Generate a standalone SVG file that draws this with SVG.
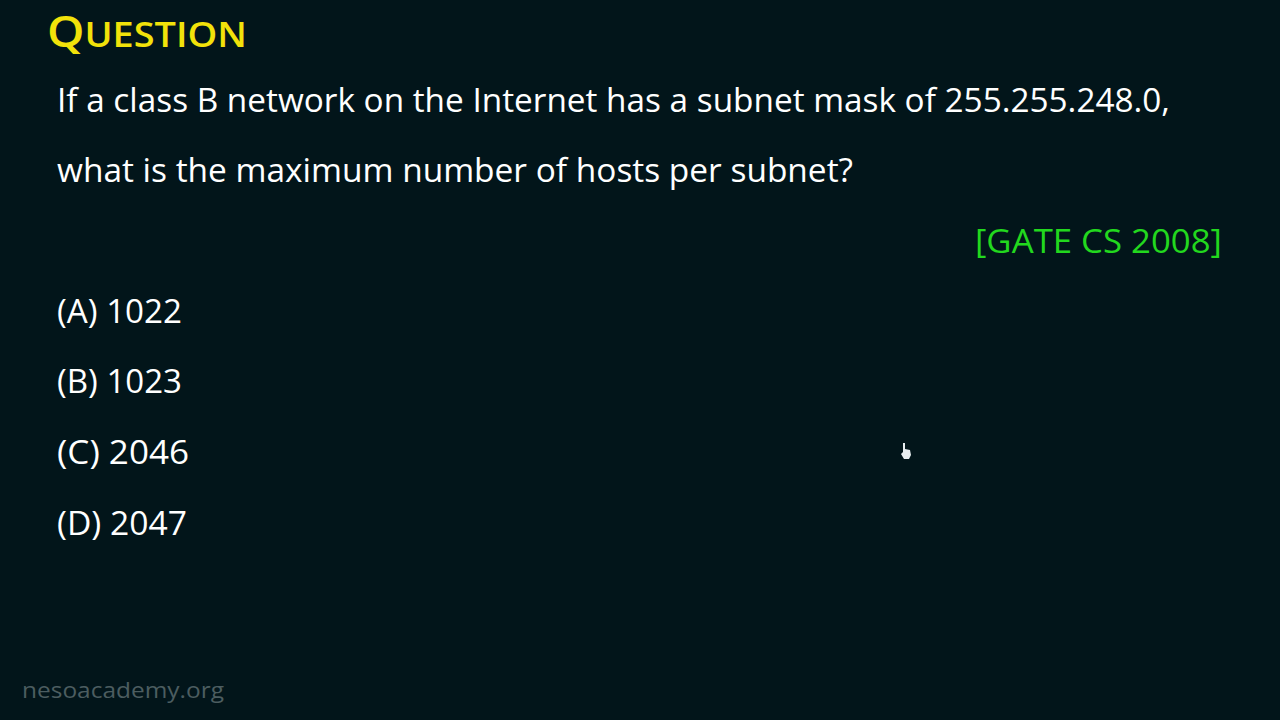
<svg xmlns="http://www.w3.org/2000/svg" width="1280" height="720" viewBox="0 0 1280 720">
<style>
.t{font-family:"Open Sans","Noto Sans",sans-serif;fill:#ffffff;font-size:33px;}
.opt{font-family:"Open Sans","Noto Sans",sans-serif;fill:#ffffff;font-size:33px;}
.title{font-family:"Open Sans","Noto Sans",sans-serif;fill:#f2e20a;font-weight:600;}
.gate{font-family:"Open Sans","Noto Sans",sans-serif;fill:#22d81e;font-size:33px;}
.foot{font-family:"Open Sans","Noto Sans",sans-serif;fill:#4c5d60;font-size:22px;}
</style>
<rect width="1280" height="720" fill="#02151a"/>
<g id="title">
<text class="title" x="47" y="47" textLength="200" lengthAdjust="spacingAndGlyphs"><tspan font-size="44">Q</tspan><tspan font-size="35">UESTION</tspan></text>
</g>
<g id="question">
<text class="t" x="57" y="112" textLength="1113" lengthAdjust="spacingAndGlyphs">If a class B network on the Internet has a subnet mask of 255.255.248.0,</text>
<text class="t" x="57" y="182" textLength="796" lengthAdjust="spacingAndGlyphs">what is the maximum number of hosts per subnet?</text>
</g>
<g id="source">
<text class="gate" x="975" y="253" textLength="247" lengthAdjust="spacingAndGlyphs">[GATE CS 2008]</text>
</g>
<g id="options">
<text class="opt" x="57" y="323" textLength="125" lengthAdjust="spacingAndGlyphs">(A) 1022</text>
<text class="opt" x="57" y="393" textLength="125" lengthAdjust="spacingAndGlyphs">(B) 1023</text>
<text class="opt" x="57" y="464" textLength="132" lengthAdjust="spacingAndGlyphs">(C) 2046</text>
<text class="opt" x="57" y="535" textLength="130" lengthAdjust="spacingAndGlyphs">(D) 2047</text>
</g>
<g id="cursor">
<path d="M903 443 L905 443 L905 449 L910 450 L911 455 L909 459 L904 459 L901 454 L903 452 Z" fill="#e8eef0"/>
</g>
<g id="footer">
<text class="foot" x="22" y="698" textLength="202" lengthAdjust="spacingAndGlyphs">nesoacademy.org</text>
</g>
</svg>
